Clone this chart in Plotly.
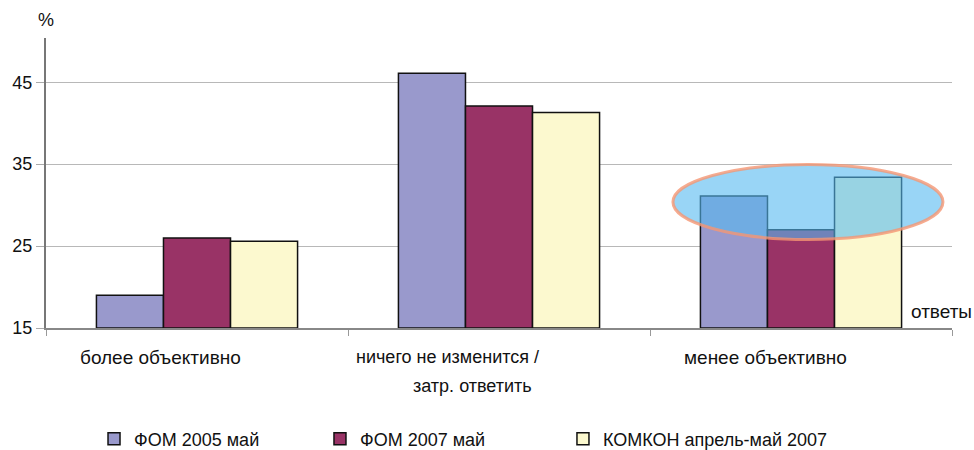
import plotly.graph_objects as go

categories = ["более объективно", "ничего не изменится / затр. ответить", "менее объективно"]
series_names = ["ФОМ 2005 май", "ФОМ 2007 май", "КОМКОН апрель-май 2007"]
fom2005 = [19.0, 46.1, 31.1]
fom2007 = [26.0, 42.1, 27.0]
komkon = [25.6, 41.3, 33.4]
y_ticks = [15, 25, 35, 45]

colors = ["#9999CC", "#993366", "#FCF9CF"]
legend_ids = ["legend", "legend2", "legend3"]
legend_x = [0.053, 0.3024, 0.5706]
xs = list(range(len(categories)))

fig = go.Figure()
for name, vals, col, lg in zip(series_names, [fom2005, fom2007, komkon], colors, legend_ids):
    fig.add_trace(go.Bar(
        x=xs, y=[v - 15 for v in vals], base=15, name=name, legend=lg,
        marker=dict(color=col, line=dict(color="#111111", width=1.5)),
    ))

legend_style = dict(
    orientation="h", xanchor="left", y=-0.383, yanchor="middle",
    font=dict(family="Liberation Sans, Arial, sans-serif", size=18, color="#111111"),
    itemwidth=30, bgcolor="rgba(0,0,0,0)",
)

fig.update_layout(
    width=974, height=450,
    margin=dict(l=46, r=22, t=38, b=122, autoexpand=False),
    paper_bgcolor="white", plot_bgcolor="white",
    barmode="group", bargap=0.334, bargroupgap=0,
    font=dict(family="Liberation Sans, Arial, sans-serif", size=18, color="#111111"),
    showlegend=True,
    legend=dict(x=legend_x[0], **legend_style),
    legend2=dict(x=legend_x[1], **legend_style),
    legend3=dict(x=legend_x[2], **legend_style),
    xaxis=dict(
        range=[-0.5, 2.5], tickvals=[-0.5, 0.5, 1.5, 2.5], ticktext=["", "", "", ""],
        ticks="outside", ticklen=6, tickcolor="#999999",
        showline=True, linecolor="#888888", linewidth=2, showgrid=False, zeroline=False,
    ),
    yaxis=dict(
        range=[15, 50.4], tickvals=y_ticks, ticktext=[str(t) for t in y_ticks],
        ticks="outside", ticklen=8, tickcolor="#aaaaaa",
        showline=True, linecolor="#777777", linewidth=2,
        showgrid=True, gridcolor="#b8b8b8", gridwidth=1, zeroline=False,
        tickfont=dict(size=18),
    ),
)

# ellipse highlight
fig.add_shape(type="circle", xref="x", yref="y",
              x0=1.576, x1=2.47, y0=25.8, y1=34.95,
              fillcolor="rgba(85,185,240,0.6)",
              line=dict(color="rgba(245,150,115,0.8)", width=3), layer="above")

# category labels
label_lines = [
    (0, "более объективно", -37, -29, 19),
    (1, "ничего не изменится /", -52, -29, 18),
    (1, "затр. ответить", -27, -58, 18),
    (2, "менее объективно", -36, -29, 19),
]
for xi, txt, xs_, ys_, fs in label_lines:
    fig.add_annotation(x=xi, xref="x", y=0, yref="paper", text=txt, showarrow=False,
                       xanchor="center", yanchor="middle", xshift=xs_, yshift=ys_,
                       font=dict(size=fs))

fig.add_annotation(x=1, xref="paper", y=0, yref="paper", text="ответы", showarrow=False,
                   xanchor="right", yanchor="middle", xshift=22, yshift=17, font=dict(size=19))
fig.add_annotation(x=0, xref="paper", y=1, yref="paper", text="%", showarrow=False,
                   xanchor="center", yanchor="middle", yshift=18, font=dict(size=18))

fig.write_html("out.html", config={"displayModeBar": False},
               post_script="document.body.style.margin='0';")
